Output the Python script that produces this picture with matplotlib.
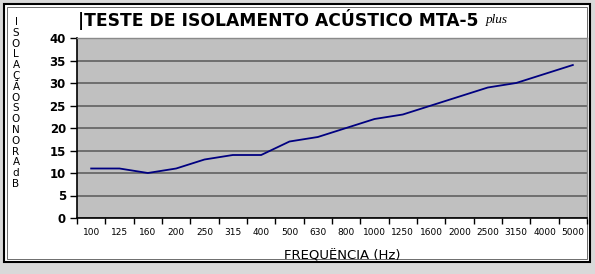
import matplotlib
matplotlib.use('Agg')
import matplotlib.pyplot as plt
from matplotlib.patches import Rectangle

#   daten: frequenz (Hz) und isolação sonora (dB)
freq = ['100', '125', '160', '200', '250', '315', '400', '500', '630', '800',
        '1000', '1250', '1600', '2000', '2500', '3150', '4000', '5000']
db = [11, 11, 10, 11, 13, 14, 14, 17, 18, 20, 22, 23, 25, 27, 29, 30, 32, 34]
yticks = [0, 5, 10, 15, 20, 25, 30, 35, 40]
ylabel_chars = list('ISOLAÇÃOSONORAdB')

W, H = 595, 274
fig = plt.figure(figsize=(W / 100, H / 100), dpi=100, facecolor='#d9d9d9')

#   weisser rahmen
fig.patches.append(Rectangle((4 / W, 1 - 262 / H), 586 / W, 258 / H, transform=fig.transFigure,
                             facecolor='white', edgecolor='black', linewidth=1.5, zorder=-10))
fig.patches.append(Rectangle((7 / W, 1 - 259 / H), 580 / W, 252 / H, transform=fig.transFigure,
                             facecolor='none', edgecolor='#555555', linewidth=0.6, zorder=-9))

ax = fig.add_axes([77 / W, 1 - 218 / H, 510 / W, 180 / H])
ax.set_facecolor('#c0c0c0')

x = list(range(len(freq)))
ax.plot(x, db, color='#000080', linewidth=1.3, zorder=3)

ax.set_xlim(-0.5, len(freq) - 0.5)
ax.set_ylim(0, 40)
ax.set_yticks(yticks)
ax.yaxis.grid(True, color='#6e6e6e', linewidth=1.4)
ax.set_axisbelow(True)

#   ticks zwischen den kategorien, labels in der mitte
ax.set_xticks([i - 0.5 for i in range(len(freq) + 1)])
ax.set_xticklabels([])
ax.set_xticks(x, minor=True)
ax.set_xticklabels(freq, minor=True, fontsize=6.5, family='DejaVu Sans')
ax.tick_params(axis='x', which='major', length=4, width=1, direction='out', color='black')
ax.tick_params(axis='x', which='minor', length=0, pad=7)
ax.tick_params(axis='y', length=5, width=1, direction='out', pad=3)
for lab in ax.get_yticklabels():
    lab.set_fontsize(8.5)
    lab.set_fontweight('bold')
    lab.set_family('DejaVu Sans')

for s in ['left', 'bottom']:
    ax.spines[s].set_color('black')
    ax.spines[s].set_linewidth(1.2)
for s in ['top', 'right']:
    ax.spines[s].set_color('#8a8a8a')
    ax.spines[s].set_linewidth(1.0)

#   titel
fig.text(78 / W, 1 - 20 / H, '|TESTE DE ISOLAMENTO ACÚSTICO MTA-5', fontsize=12.3, fontweight='bold',
         family='DejaVu Sans', ha='left', va='center')
fig.text(486 / W, 1 - 20 / H, 'plus', fontsize=9.5, style='italic', family='Liberation Serif',
         ha='left', va='center')

#   y-achsentitel, buchstabe für buchstabe
for i, ch in enumerate(ylabel_chars):
    fig.text(16 / W, 1 - (22 + i * 10.8) / H, ch, fontsize=7.5, family='DejaVu Sans',
             ha='center', va='center')

#   x-achsentitel
fig.text(342 / W, 1 - 256 / H, 'FREQUËNCIA (Hz)', fontsize=9.5, family='DejaVu Sans',
         ha='center', va='center')

fig.savefig('out.png', dpi=100, facecolor=fig.get_facecolor())
